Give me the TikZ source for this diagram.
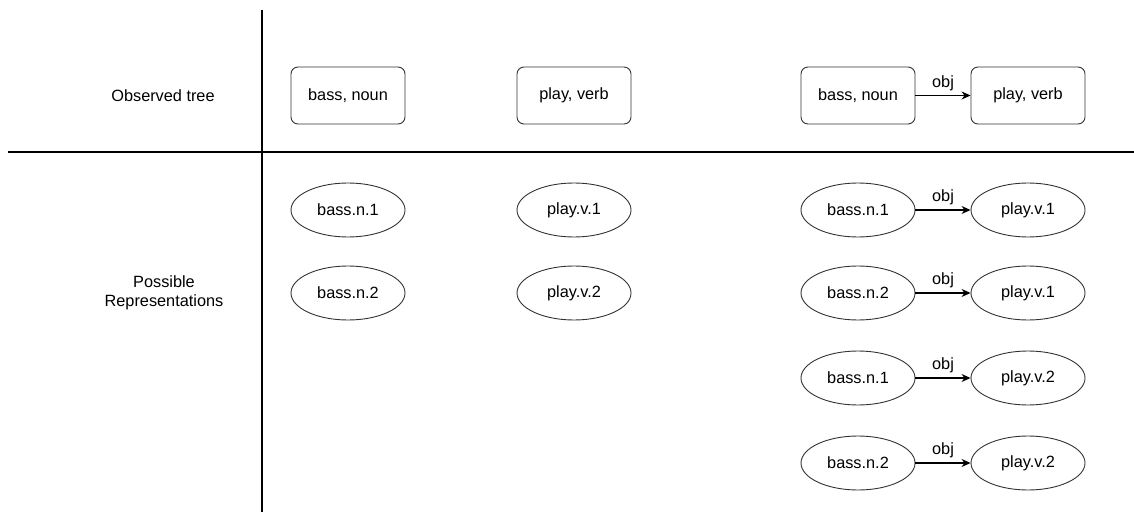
\documentclass[tikz,border=0pt]{standalone}
\usepackage{fontspec}
\setmainfont{Liberation Sans}
\usetikzlibrary{arrows.meta,shapes.geometric}

\begin{document}
\begin{tikzpicture}[
    x=1pt, y=-1pt,
    every node/.style={font=\fontsize{16.3}{19.5}\selectfont},
    word/.style={draw=black!80, line width=0.9pt, rounded corners=7pt, minimum width=114pt, minimum height=57pt},
    sense/.style={draw=black!80, line width=0.9pt, ellipse, minimum width=114pt, minimum height=54pt, inner sep=0pt},
    head/.style={align=center},
    dep/.style={-{Stealth[length=9pt,width=8pt]}, line width=1.1pt},
    rule/.style={line width=1.2pt}
  ]
    \useasboundingbox (0,0) rectangle (1134,513);

    % table lines
    \draw[rule] (262,10) -- (262,512);
    \draw[rule] (8,152) -- (1134,152);

    \node[head] (obs) at (163,96) {Observed tree};
    \node[head] (poss) at (164,293) {Possible\\Representations};

    % observed words
    \node[word] (w1) at (348,95.5) {bass, noun};
    \node[word] (w2) at (574,95.5) {play, verb};
    \node[word] (t1) at (858,95.5) {bass, noun};
    \node[word] (t2) at (1028,95.5) {play, verb};
    \draw[dep] (t1) -- node[above, yshift=1pt] {obj} (t2);

    % senses of single words
    \node[sense] (b1) at (348,210) {bass.n.1};
    \node[sense] (b2) at (348,293) {bass.n.2};
    \node[sense] (p1) at (574,210) {play.v.1};
    \node[sense] (p2) at (574,293) {play.v.2};

    % senses of the pair
    \node[sense] (r1a) at (858,210) {bass.n.1};
    \node[sense] (r1b) at (1028,210) {play.v.1};
    \node[sense] (r2a) at (858,293) {bass.n.2};
    \node[sense] (r2b) at (1028,293) {play.v.1};
    \node[sense] (r3a) at (858,378) {bass.n.1};
    \node[sense] (r3b) at (1028,378) {play.v.2};
    \node[sense] (r4a) at (858,463) {bass.n.2};
    \node[sense] (r4b) at (1028,463) {play.v.2};
    \foreach \r in {r1,r2,r3,r4}
      \draw[dep] (\r a) -- node[above, yshift=1pt] {obj} (\r b);
  \end{tikzpicture}
\end{document}
